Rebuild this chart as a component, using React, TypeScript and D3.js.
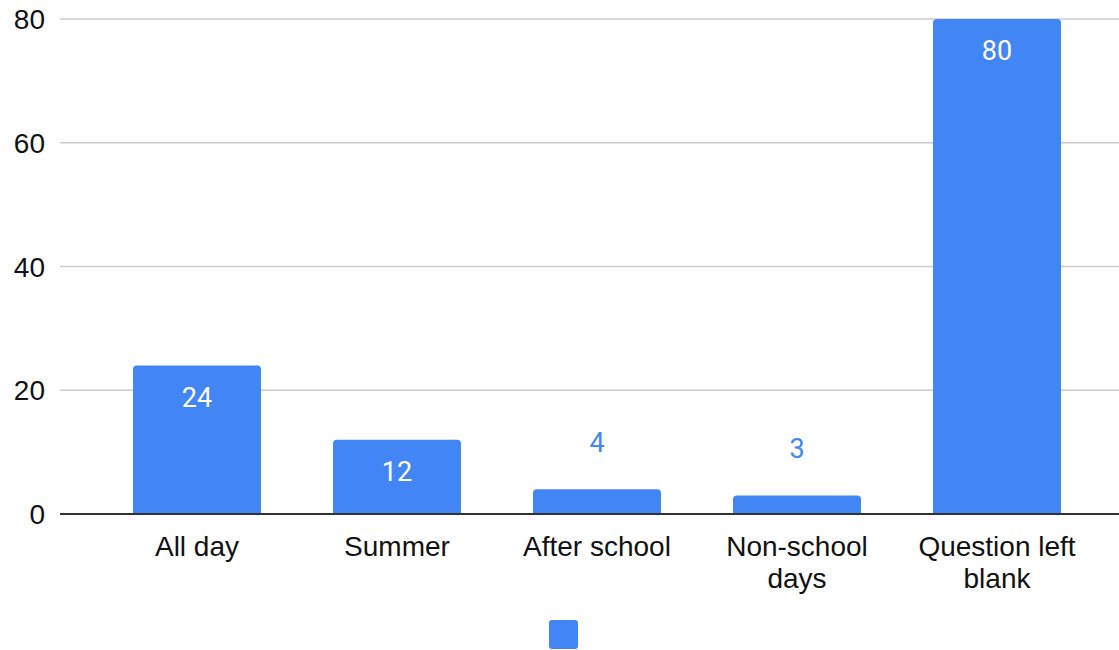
import React, { useEffect, useRef } from "react";
import * as d3 from "d3";

// 차트 데이터
const categories = ["All day", "Summer", "After school", "Non-school days", "Question left blank"];
const categoryLines = [["All day"], ["Summer"], ["After school"], ["Non-school", "days"], ["Question left", "blank"]];
const values = [24, 12, 4, 3, 80];
const yTicks = [0, 20, 40, 60, 80];

const BAR_COLOR = "#4285f4";

const App: React.FC = () => {
  const ref = useRef<HTMLDivElement>(null);

  useEffect(() => {
    if (!ref.current) return;
    d3.select(ref.current).selectAll("svg").remove();

    const width = 1119;
    const height = 650;

    const svg = d3.select(ref.current)
      .append("svg")
      .attr("width", width)
      .attr("height", height)
      .style("position", "absolute")
      .style("left", "0px")
      .style("top", "0px");

    const x = d3.scaleBand<string>()
      .domain(categories)
      .range([97, 1097])
      .paddingInner(0.36)
      .paddingOuter(0.18);

    const y = d3.scaleLinear()
      .domain([0, 80])
      .range([514, 19]);

    // 그리드 라인
    svg.append("g")
      .selectAll("line")
      .data(yTicks.filter(t => t !== 0))
      .join("line")
      .attr("x1", 60)
      .attr("x2", width)
      .attr("y1", d => y(d))
      .attr("y2", d => y(d))
      .attr("stroke", "#cccccc")
      .attr("stroke-width", 1.5);

    // y축 라벨
    svg.append("g")
      .selectAll("text")
      .data(yTicks)
      .join("text")
      .attr("x", 45)
      .attr("y", d => y(d))
      .attr("dy", "0.36em")
      .attr("text-anchor", "end")
      .attr("font-family", "Arial, 'Liberation Sans', sans-serif")
      .attr("font-size", 28)
      .attr("fill", "#111")
      .text(d => d);

    // 막대 (위쪽만 둥근 모서리)
    const r = 4;
    const barPath = (d: number, i: number) => {
      const x0 = x(categories[i])!;
      const w = x.bandwidth();
      const top = y(d);
      const bottom = y(0);
      const rr = Math.min(r, bottom - top);
      return `M${x0},${bottom}V${top + rr}Q${x0},${top} ${x0 + rr},${top}H${x0 + w - rr}Q${x0 + w},${top} ${x0 + w},${top + rr}V${bottom}Z`;
    };

    svg.append("g")
      .selectAll("path")
      .data(values)
      .join("path")
      .attr("d", (d, i) => barPath(d, i))
      .attr("fill", BAR_COLOR);

    // x축 라인
    svg.append("line")
      .attr("x1", 60)
      .attr("x2", width)
      .attr("y1", y(0))
      .attr("y2", y(0))
      .attr("stroke", "#333")
      .attr("stroke-width", 2);

    // 값 라벨 - 막대가 작으면 위에, 크면 안쪽에
    svg.append("g")
      .selectAll("text")
      .data(values)
      .join("text")
      .attr("x", (_, i) => x(categories[i])! + x.bandwidth() / 2)
      .attr("y", d => (d >= 10 ? y(d) + 41 : y(d) - 37))
      .attr("text-anchor", "middle")
      .attr("font-family", "Roboto, Arial, sans-serif")
      .attr("font-size", 27)
      .attr("fill", d => (d >= 10 ? "#ffffff" : BAR_COLOR))
      .text(d => d);

    // 카테고리 라벨
    const labels = svg.append("g")
      .selectAll("text")
      .data(categoryLines)
      .join("text")
      .attr("x", (_, i) => x(categories[i])! + x.bandwidth() / 2)
      .attr("y", 556)
      .attr("text-anchor", "middle")
      .attr("font-family", "Arial, 'Liberation Sans', sans-serif")
      .attr("font-size", 28)
      .attr("fill", "#111");

    labels.selectAll("tspan")
      .data((d, i) => d.map(line => ({ line, i })))
      .join("tspan")
      .attr("x", d => x(categories[d.i])! + x.bandwidth() / 2)
      .attr("dy", (_, j) => (j === 0 ? 0 : 32))
      .text(d => d.line);

    // 범례 (라벨 없음)
    svg.append("rect")
      .attr("x", 549)
      .attr("y", 620)
      .attr("width", 29)
      .attr("height", 29)
      .attr("rx", 3)
      .attr("fill", BAR_COLOR);
  }, []);

  return <div ref={ref} />;
};

export default App;
